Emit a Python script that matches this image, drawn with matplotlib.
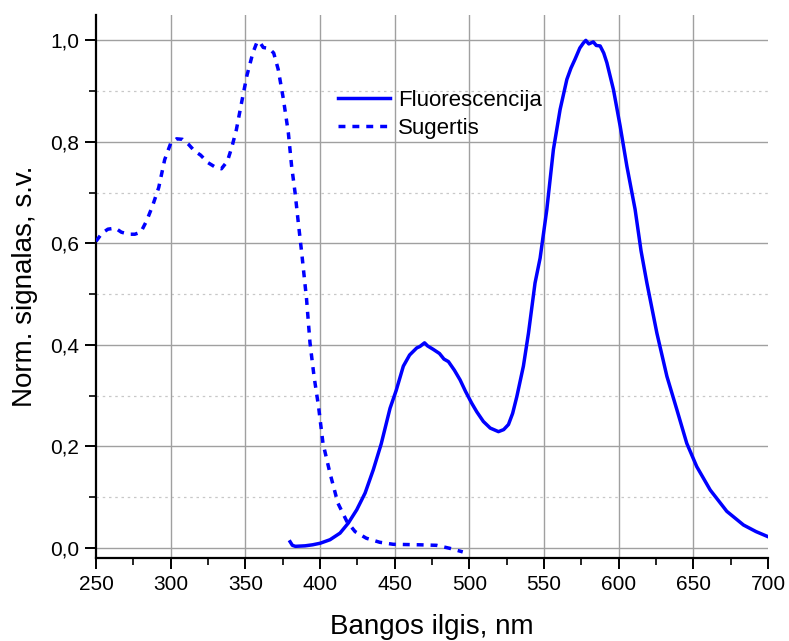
import matplotlib
matplotlib.use("Agg")
import matplotlib.pyplot as plt
from matplotlib.ticker import MultipleLocator, FuncFormatter

plt.rcParams['font.family'] = ['Liberation Sans', 'DejaVu Sans']

# Absorption spectrum (dashed)
abs_nm = [250, 254, 258, 263, 267, 272, 276, 280, 284, 288, 292, 296, 300, 304, 308,
          312, 316, 320, 325, 330, 334, 338, 341, 344, 347, 351, 355, 358, 360, 362,
          366, 369, 372, 375.5, 378.8, 381, 383.3, 385.5, 387.8, 391, 393.3, 396, 399,
          402, 406.7, 412, 418, 423.5, 431, 440, 449, 467, 478, 487, 495.6]
abs_val = [0.604, 0.620, 0.628, 0.630, 0.622, 0.618, 0.618, 0.622, 0.645, 0.675, 0.710,
           0.765, 0.797, 0.806, 0.805, 0.795, 0.782, 0.774, 0.759, 0.750, 0.747, 0.762,
           0.790, 0.824, 0.870, 0.930, 0.975, 0.998, 0.995, 0.986, 0.984, 0.975, 0.943,
           0.884, 0.818, 0.752, 0.700, 0.640, 0.580, 0.490, 0.404, 0.338, 0.279, 0.206,
           0.147, 0.088, 0.052, 0.032, 0.019, 0.011, 0.007, 0.006, 0.005, -0.001, -0.008]

# Fluorescence spectrum (solid)
fl_nm = [380, 381.5, 383.5, 390, 395, 400, 406.7, 413.4, 419, 424.6, 430.2, 435.7, 441,
         446.9, 451, 455.8, 460, 464.8, 467, 470, 472, 475.9, 480, 483, 486, 490, 493.8,
         497.5, 501.6, 505, 509.4, 514, 519.5, 523, 526.2, 529, 531.8, 536.2, 539.6, 544,
         547.4, 551.9, 556.3, 560.8, 565.3, 568, 570.8, 574, 576.4, 578, 580, 583, 585,
         587.6, 590, 592.1, 596.5, 601, 605.5, 611, 615, 618.9, 625.6, 632.3, 639, 645.6,
         652.3, 661.3, 672.4, 683.6, 692, 700]
fl_val = [0.012, 0.005, 0.003, 0.004, 0.006, 0.009, 0.016, 0.029, 0.049, 0.075, 0.108,
          0.154, 0.205, 0.275, 0.310, 0.358, 0.380, 0.394, 0.397, 0.404, 0.398, 0.391,
          0.383, 0.372, 0.367, 0.350, 0.331, 0.308, 0.285, 0.268, 0.249, 0.236, 0.229,
          0.233, 0.243, 0.265, 0.298, 0.358, 0.423, 0.522, 0.571, 0.667, 0.785, 0.864,
          0.923, 0.945, 0.963, 0.985, 0.995, 1.000, 0.993, 0.997, 0.990, 0.989, 0.975,
          0.956, 0.903, 0.831, 0.752, 0.667, 0.585, 0.522, 0.423, 0.338, 0.272, 0.206,
          0.160, 0.114, 0.072, 0.045, 0.032, 0.022]

x_major = [300, 350, 400, 450, 500, 550, 600, 650]

fig = plt.figure(figsize=(7.89, 6.41), dpi=100)
ax = fig.add_axes([96 / 789, 1 - 558 / 641, 672 / 789, 543 / 641])

blue = '#0000ff'
ax.plot(fl_nm, fl_val, color=blue, lw=2.5, label='Fluorescencija', zorder=3)
ax.plot(abs_nm, abs_val, color=blue, lw=2.5, ls=(0, (2, 2)), label='Sugertis', zorder=3)

ax.set_xlim(250, 700)
ax.set_ylim(-0.02, 1.05)

# grid: solid major, dotted minor horizontal lines
for v in [0.0, 0.2, 0.4, 0.6, 0.8, 1.0]:
    ax.axhline(v, color='#a0a0a0', lw=1.0, zorder=1)
for v in [0.1, 0.3, 0.5, 0.7, 0.9]:
    ax.axhline(v, color='#c8c8c8', lw=0.9, ls=(0, (2, 3)), zorder=1)
for v in x_major:
    ax.axvline(v, color='#a0a0a0', lw=1.0, zorder=1)

ax.xaxis.set_major_locator(MultipleLocator(50))
ax.xaxis.set_minor_locator(MultipleLocator(25))
ax.yaxis.set_major_locator(MultipleLocator(0.2))
ax.yaxis.set_minor_locator(MultipleLocator(0.1))
ax.yaxis.set_major_formatter(FuncFormatter(lambda v, p: f"{v:.1f}".replace('.', ',')))

for s in ['top', 'right']:
    ax.spines[s].set_visible(False)
for s in ['left', 'bottom']:
    ax.spines[s].set_linewidth(1.6)

ax.tick_params(which='major', direction='out', length=8, width=1.4, labelsize=15, pad=4)
ax.tick_params(which='minor', direction='out', length=5, width=1.2)

ax.set_xlabel('Bangos ilgis, nm', fontsize=20, labelpad=15)
ax.set_ylabel('Norm. signalas, s.v.', fontsize=20, labelpad=9)

ax.legend(loc='upper left', bbox_to_anchor=(0.36, 0.862), frameon=False, fontsize=16,
          handlelength=2.35, handletextpad=0.35, labelspacing=0.3, borderpad=0,
          borderaxespad=0)

fig.savefig('out.png', dpi=100)
